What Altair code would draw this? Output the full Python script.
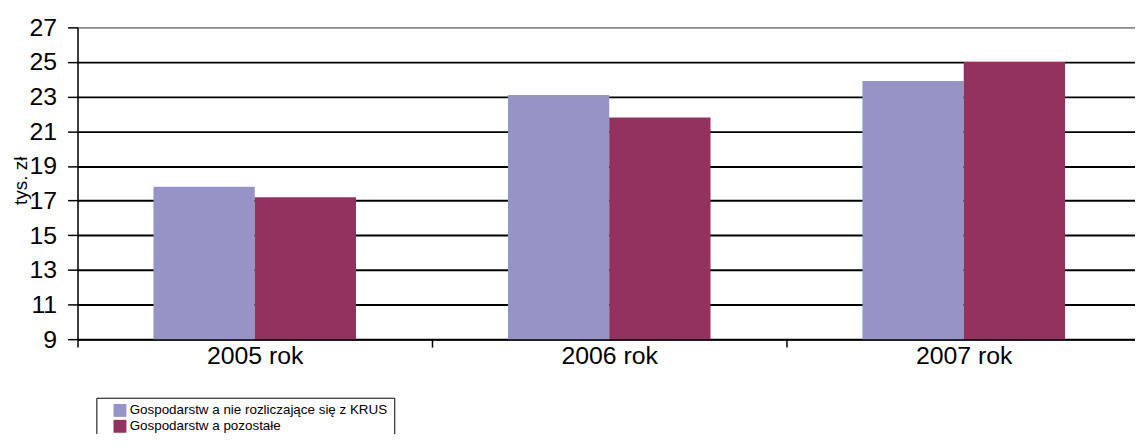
import altair as alt
import pandas as pd

categories = ["2005 rok", "2006 rok", "2007 rok"]
series = ["Gospodarstw a nie rozliczające się z KRUS", "Gospodarstw a pozostałe"]
values_krus = [17.8, 23.1, 23.9]
values_other = [17.2, 21.8, 25.0]
colors = ["#9693C6", "#93325F"]
y_ticks = [9, 11, 13, 15, 17, 19, 21, 23, 25, 27]

rows = []
for c, a, b in zip(categories, values_krus, values_other):
    rows.append({"rok": c, "seria": series[0], "val": a})
    rows.append({"rok": c, "seria": series[1], "val": b})
df = pd.DataFrame(rows)

FONT = "Liberation Sans"

chart = alt.Chart(df).mark_bar().encode(
    x=alt.X("rok:N", sort=categories, title=None,
            scale=alt.Scale(paddingInner=0, paddingOuter=0, range=[0, 1071]),
            axis=alt.Axis(tickBand="extent", tickSize=8, tickColor="black", domainColor="black",
                          domainWidth=1.5, tickWidth=1.5,
                          labelAngle=0, labelFontSize=25, labelFont=FONT, labelColor="black",
                          labelPadding=-3, labelBaseline="top", grid=False)),
    xOffset=alt.XOffset("seria:N", sort=series,
                        scale=alt.Scale(paddingInner=0, paddingOuter=0.75)),
    y=alt.Y("val:Q", title="tys. zł",
            scale=alt.Scale(domain=[9, 27], nice=False, zero=False),
            axis=alt.Axis(values=y_ticks, tickSize=10, tickColor="black", domainColor="black",
                          domainWidth=1.5, tickWidth=1.5,
                          labelFontSize=25, labelFont=FONT, labelColor="black", labelPadding=11,
                          gridColor={"condition": {"test": "datum.value == 27", "value": "#8c8c8c"},
                                     "value": "black"},
                          gridWidth=2, gridOpacity=1,
                          titleFont=FONT, titleFontSize=19, titleFontWeight="normal",
                          titleColor="black", titleAngle=270, titleX=-57, titleY=154,
                          titleAlign="center", titleBaseline="middle")),
    y2=alt.datum(9),
    color=alt.Color("seria:N", sort=series,
                    scale=alt.Scale(domain=series, range=colors),
                    legend=alt.Legend(title=None, orient="none", legendX=19, legendY=373,
                                      strokeColor="black", padding=6,
                                      symbolType="square", symbolSize=169, symbolStrokeWidth=0,
                                      symbolOffset=11,
                                      symbolOpacity=1, labelFont=FONT,
                                      labelFontSize=13.5,
                                      labelColor="black", labelOffset=3, rowPadding=1,
                                      labelLimit=400)),
).properties(
    width=1065, height=314,
    autosize=alt.AutoSizeParams(type="none"),
    padding={"left": 70, "top": 18, "right": 0, "bottom": 94},
).configure_view(stroke=None).configure(background="white")

chart.save("out.html", embed_options={"renderer": "svg", "actions": False})
